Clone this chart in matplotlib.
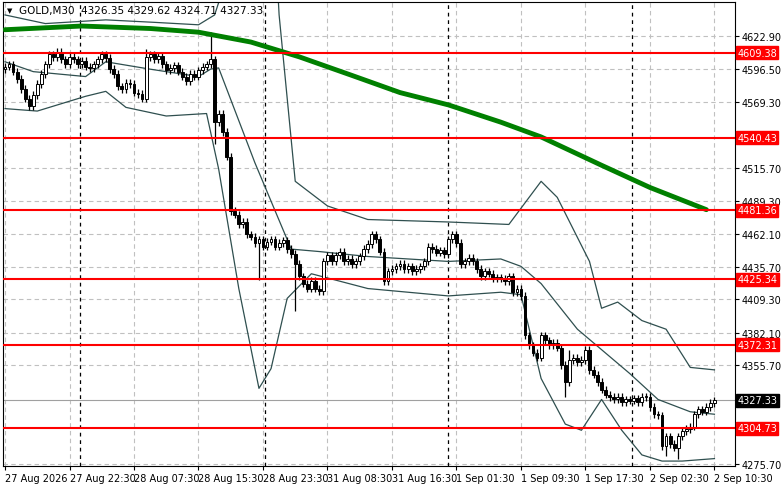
import matplotlib
matplotlib.use("Agg")
import matplotlib.pyplot as plt
import numpy as np

closes = [4598,4600,4594,4588,4580,4572,4566,4575,4584,4592,4600,4608,4606,4610,4604,4600,4606,4604,4600,4603,
          4598,4597,4600,4604,4608,4605,4596,4592,4582,4580,4585,4584,4577,4576,4572,4606,4608,4604,4607,4600,
          4595,4597,4599,4594,4590,4586,4592,4590,4595,4598,4600,4604,4553,4560,4545,4525,4481,4478,4470,4472,
          4462,4460,4455,4458,4452,4456,4458,4452,4455,4457,4450,4446,4438,4428,4422,4418,4424,4418,4416,4440,
          4445,4440,4445,4448,4440,4442,4438,4440,4444,4450,4454,4462,4458,4448,4424,4432,4434,4436,4438,4434,
          4436,4432,4434,4436,4440,4452,4450,4447,4449,4446,4458,4462,4455,4438,4440,4443,4440,4434,4428,4432,
          4430,4426,4427,4426,4424,4428,4415,4418,4412,4380,4372,4366,4362,4380,4376,4372,4374,4370,4356,4342,
          4360,4362,4358,4360,4368,4352,4348,4342,4336,4332,4330,4328,4330,4326,4328,4327,4329,4326,4330,4330,
          4322,4316,4315,4290,4298,4292,4289,4298,4302,4304,4306,4316,4320,4318,4322,4325,4327.33]
first_open = 4596
spike_high = {51: 4626, 35: 4612, 140: 4368}
spike_low = {52: 4535, 63: 4425, 72: 4400, 139: 4330, 164: 4282, 167: 4280}

band_x  = [0,10,25,37,48,52,56,62,67,68,72,80,90,110,125,133,137,145,148,152,158,164,170,176]
upper   = [4640,4633,4636,4634,4632,4640,4680,4720,4700,4640,4505,4485,4474,4472,4470,4505,4492,4440,4402,4407,4392,4385,4354,4352]
mid_x   = [0,7,20,25,36,48,51,53,62,71,78,90,110,123,128,133,142,155,162,170,176]
middle  = [4602,4594,4590,4602,4596,4590,4596,4597,4520,4450,4448,4444,4440,4442,4436,4422,4385,4349,4328,4318,4316]
low_x   = [0,8,20,25,30,40,50,53,58,63,66,70,76,90,110,123,128,133,139,143,148,153,158,163,168,176]
lower   = [4564,4562,4574,4578,4565,4558,4560,4515,4418,4337,4353,4410,4430,4418,4412,4415,4413,4345,4308,4303,4328,4303,4283,4278,4278,4280]
ma_x    = [0,19,36,48,61,73,86,98,110,123,133,148,160,174]
ma      = [4628,4631,4629,4626,4618,4606,4591,4577,4567,4553,4541,4518,4500,4482]

levels = [4609.38, 4540.43, 4481.36, 4425.34, 4372.31, 4304.73]
current = 4327.33
yticks = [4622.90,4596.50,4569.30,4515.70,4489.30,4462.10,4435.70,4409.30,4382.10,4355.70,4275.70]
xlabels = ["27 Aug 2026","27 Aug 22:30","28 Aug 07:30","28 Aug 15:30","28 Aug 23:30","31 Aug 08:30",
           "31 Aug 16:30","1 Sep 01:30","1 Sep 09:30","1 Sep 17:30","2 Sep 02:30","2 Sep 10:30"]
day_sep = [18.5, 64.5, 110, 155.5]

fig = plt.figure(figsize=(7.81, 4.89), dpi=100)
ax = fig.add_axes([3/781, 22/489, 732/781, 464/489])
ax.set_xlim(-0.5, 181.1)
ax.set_ylim(4274.0, 4650.5)

for t in yticks:
    ax.axhline(t, color="#c0c0c0", lw=0.8, ls=(0, (4, 3)), zorder=0)
xt = np.arange(len(xlabels)) * 16
for t in xt:
    ax.axvline(t, color="#c0c0c0", lw=0.8, ls=(0, (4, 3)), zorder=0)
for t in day_sep:
    ax.axvline(t, color="black", lw=0.9, ls=(0, (3, 3)), zorder=1)

ax.plot(band_x, upper, color="#2f4f4f", lw=0.9, zorder=2)
ax.plot(mid_x, middle, color="#2f4f4f", lw=0.9, zorder=2)
ax.plot(low_x, lower, color="#2f4f4f", lw=0.9, zorder=2)

opens = [first_open] + closes[:-1]
for i, (o, c) in enumerate(zip(opens, closes)):
    hi = spike_high.get(i, max(o, c) + 3)
    lo = spike_low.get(i, min(o, c) - 3)
    ax.vlines(i, lo, hi, color="black", lw=0.9, zorder=3)
    up = c >= o
    ax.bar(i, max(abs(c - o), 0.4), bottom=min(o, c), width=0.7,
           color="white" if up else "black", edgecolor="black", lw=0.7, zorder=4)

ax.plot(ma_x, ma, color="#008000", lw=3.5, zorder=5, solid_capstyle="round")

for lv in levels:
    ax.axhline(lv, color="#ff0000", lw=1.5, zorder=6)
ax.axhline(current, color="#a0a0a0", lw=0.8, zorder=1)

ax.yaxis.tick_right()
ax.set_yticks(yticks)
ax.set_yticklabels([f"{t:.2f}" for t in yticks], fontsize=7)
ax.set_xticks(xt)
ax.set_xticklabels(xlabels, fontsize=7, ha="left")
ax.tick_params(axis="both", length=3, pad=2)

for lv in levels:
    ax.annotate(f"{lv:.2f}", xy=(1, lv), xycoords=("axes fraction", "data"), xytext=(1.5, 0),
                textcoords="offset points", fontsize=7, color="white", va="center", ha="left",
                bbox=dict(boxstyle="square,pad=0.15", fc="#ff0000", ec="#ff0000"), zorder=10,
                annotation_clip=False)
ax.annotate(f"{current:.2f}", xy=(1, current), xycoords=("axes fraction", "data"), xytext=(1.5, 0),
            textcoords="offset points", fontsize=7, color="white", va="center", ha="left",
            bbox=dict(boxstyle="square,pad=0.15", fc="black", ec="black"), zorder=10,
            annotation_clip=False)

ax.text(0.006, 0.988, "\u25BC", transform=ax.transAxes, fontsize=5, va="top", ha="left")
ax.text(0.022, 0.993, "GOLD,M30  4326.35 4329.62 4324.71 4327.33", transform=ax.transAxes,
        fontsize=7.5, va="top", ha="left")

fig.savefig("out.png", dpi=100)
